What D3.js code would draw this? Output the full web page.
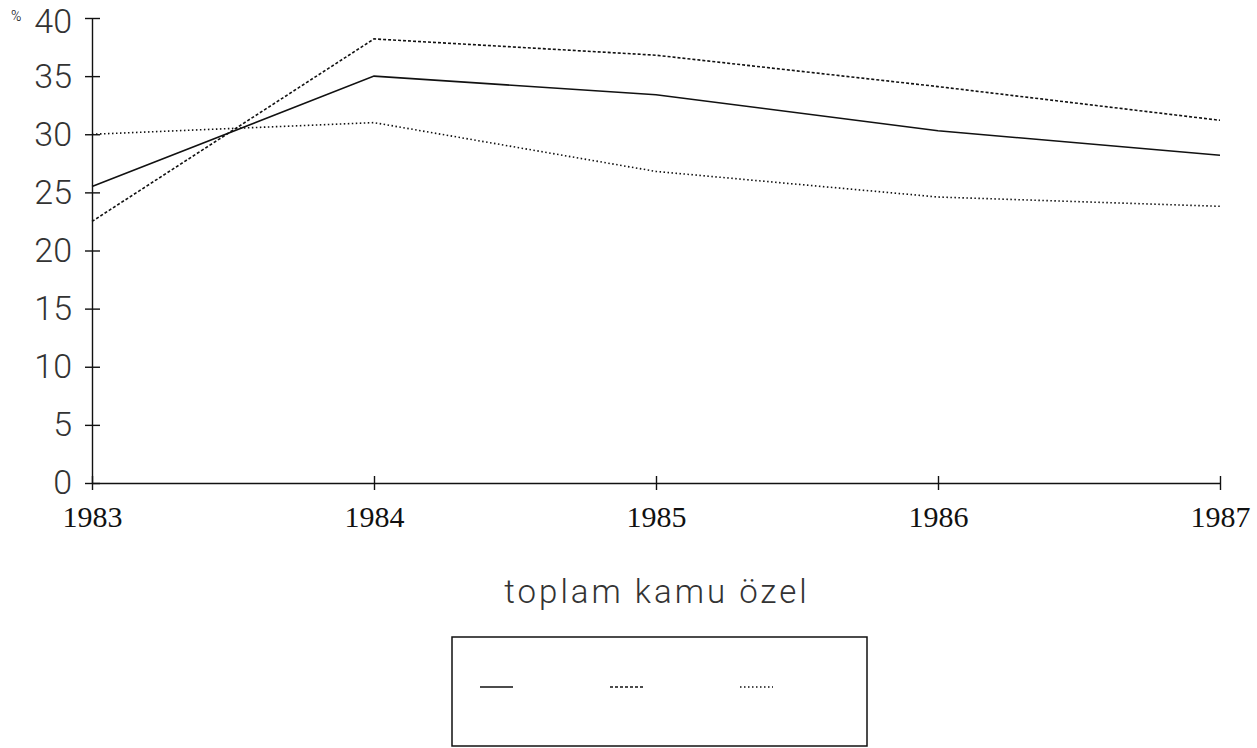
<!DOCTYPE html>
<meta charset="utf-8">
<style>
  body { margin: 0; background: #fff; }
  svg { display: block; }
  .line { fill: none; stroke: #111; stroke-width: 1.6px; }
  .axis path, .axis line { stroke: #111; stroke-width: 1.4px; }
  .axis--y text { font-family: Roboto, sans-serif; font-weight: 300; font-size: 34px; fill: #333; }
  .axis--x text { font-family: "Liberation Serif", serif; font-size: 30px; fill: #111; }
</style>
<svg width="1257" height="748"></svg>
<script src="https://cdn.jsdelivr.net/npm/d3@7"></script>
<script>

  var years = [1983, 1984, 1985, 1986, 1987];
  var toplam = [25.5, 35.0, 33.4, 30.3, 28.2];
  var kamu = [22.5, 38.2, 36.8, 34.1, 31.2];
  var ozel = [30.0, 31.0, 26.8, 24.6, 23.8];
  var seriesNames = ["toplam", "kamu", "özel"];
  var yTicks = [0, 5, 10, 15, 20, 25, 30, 35, 40];

  var svg = d3.select("svg");

  var x = d3.scaleLinear().domain([1983, 1987]).range([92, 1220]),
      y = d3.scaleLinear().domain([0, 40]).range([483, 18]);

  var dashes = [null, "3,2", "1.5,2.5"];
  var series = [toplam, kamu, ozel].map(function(vals, i) {
    return {name: seriesNames[i], dash: dashes[i], values: years.map(function(yr, j) { return {year: yr, v: vals[j]}; })};
  });

  // axes, ticks cross the line like the plotter output
  var ax = svg.append("g")
      .attr("class", "axis axis--x")
      .attr("transform", "translate(0," + y(0) + ")")
      .call(d3.axisBottom(x).tickValues(years).tickFormat(d3.format("d")).tickSizeOuter(0).tickPadding(17));
  ax.selectAll(".tick line").attr("y1", -7).attr("y2", 7);

  var ay = svg.append("g")
      .attr("class", "axis axis--y")
      .attr("transform", "translate(" + x(1983) + ",0)")
      .call(d3.axisLeft(y).tickValues(yTicks).tickSizeOuter(0).tickPadding(14));
  ay.selectAll(".tick line").attr("x1", -7).attr("x2", 8);
  // top label sits a little lower in the original
  ay.selectAll(".tick text").attr("dy", function(d) { return d === 40 ? "0.44em" : "0.32em"; });

  svg.append("text")
      .attr("x", 11)
      .attr("y", 21)
      .style("font", "300 14px Roboto, sans-serif")
      .text("%");

  var line = d3.line()
      .x(function(d) { return x(d.year); })
      .y(function(d) { return y(d.v); });

  svg.selectAll(".series")
      .data(series)
      .enter().append("path")
      .attr("class", "line")
      .attr("d", function(d) { return line(d.values); })
      .style("stroke-dasharray", function(d) { return d.dash; });

  // legend
  svg.append("text")
      .attr("x", 657)
      .attr("y", 603)
      .attr("text-anchor", "middle")
      .style("font", "300 33px Roboto, sans-serif")
      .style("letter-spacing", "3px")
      .style("fill", "#333")
      .text(seriesNames.join(" "));

  svg.append("rect")
      .attr("x", 452).attr("y", 637)
      .attr("width", 415).attr("height", 109)
      .attr("fill", "none")
      .attr("stroke", "#111")
      .attr("stroke-width", 1.5);

  svg.selectAll(".leg")
      .data(series)
      .enter().append("line")
      .attr("class", "line")
      .attr("x1", function(d, i) { return 480 + i * 130; })
      .attr("x2", function(d, i) { return 513 + i * 130; })
      .attr("y1", 687).attr("y2", 687)
      .style("stroke-dasharray", function(d) { return d.dash; });

</script>
